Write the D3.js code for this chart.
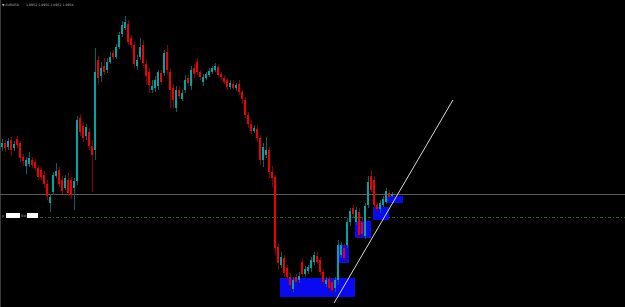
<!DOCTYPE html>
<html>
<head>
<meta charset="utf-8">
<script src="https://cdn.jsdelivr.net/npm/d3@7"></script>
<style>
  html, body { margin: 0; padding: 0; background: #000; overflow: hidden; }
  svg { display: block; }
</style>
</head>
<body>
<div id="myDiv"></div>
<script>
//Candle prices, one entry per bar
var opens = [1.1001,1.1005,1.1001,1.1008,1.1000,1.1009,1.1005,1.0991,1.0982,1.0984,
  1.0988,1.0986,1.0980,1.0978,1.0973,1.0964,1.0945,1.0956,1.0972,1.0978,
  1.0968,1.0960,1.0968,1.0968,1.0960,1.0967,1.1030,1.1022,1.1012,1.1016,
  1.1002,1.0998,1.1088,1.1072,1.1082,1.1078,1.1086,1.1095,1.1091,1.1101,
  1.1114,1.1120,1.1124,1.1110,1.1103,1.1082,1.1091,1.1103,1.1084,1.1076,
  1.1058,1.1060,1.1062,1.1075,1.1075,1.1096,1.1076,1.1060,1.1040,1.1058,
  1.1049,1.1058,1.1070,1.1062,1.1080,1.1086,1.1076,1.1066,1.1070,1.1073,
  1.1076,1.1078,1.1081,1.1074,1.1070,1.1068,1.1061,1.1064,1.1060,1.1064,
  1.1056,1.1048,1.1033,1.1024,1.1017,1.1019,1.1010,1.0988,1.0993,1.0998,
  1.0976,1.0971,1.0901,1.0883,1.0890,1.0880,1.0871,1.0859,1.0871,1.0868,
  1.0886,1.0874,1.0877,1.0880,1.0886,1.0892,1.0888,1.0876,1.0864,1.0869,
  1.0866,1.0860,1.0868,1.0893,1.0900,1.0903,1.0926,1.0940,1.0926,1.0936,
  1.0926,1.0912,1.0943,1.0972,1.0968,1.0943,1.0939,1.0943,1.0946,1.0955,
  1.0952];
var highs = [1.1009,1.1008,1.1010,1.1011,1.1007,1.1012,1.1007,1.0994,1.0991,1.0996,
  1.0991,1.0989,1.0983,1.0981,1.0977,1.0968,1.0954,1.0976,1.0985,1.0981,
  1.0972,1.0973,1.0975,1.0971,1.0970,1.1032,1.1034,1.1026,1.1024,1.1020,
  1.1008,1.1100,1.1092,1.1086,1.1090,1.1090,1.1096,1.1098,1.1104,1.1116,
  1.1127,1.1132,1.1128,1.1113,1.1106,1.1093,1.1110,1.1108,1.1088,1.1080,
  1.1068,1.1072,1.1078,1.1078,1.1098,1.1103,1.1080,1.1064,1.1062,1.1062,
  1.1058,1.1073,1.1073,1.1082,1.1084,1.1090,1.1078,1.1074,1.1076,1.1080,
  1.1082,1.1085,1.1083,1.1076,1.1073,1.1070,1.1068,1.1068,1.1065,1.1068,
  1.1058,1.1051,1.1036,1.1028,1.1023,1.1023,1.1013,1.1005,1.1011,1.1001,
  1.0982,1.0973,1.0905,1.0896,1.0893,1.0883,1.0875,1.0871,1.0874,1.0876,
  1.0890,1.0882,1.0883,1.0891,1.0896,1.0896,1.0891,1.0879,1.0871,1.0872,
  1.0869,1.0871,1.0908,1.0906,1.0904,1.0930,1.0940,1.0943,1.0941,1.0940,
  1.0930,1.0945,1.0972,1.0978,1.0972,1.0946,1.0948,1.0952,1.0960,1.0958,
  1.0956];
var lows = [1.0997,1.0996,1.0998,1.0992,1.0997,1.0999,1.0986,1.0982,1.0974,1.0981,
  1.0980,1.0977,1.0968,1.0968,1.0960,1.0948,1.0936,1.0953,1.0970,1.0961,
  1.0954,1.0958,1.0952,1.0949,1.0938,1.0963,1.1012,1.1006,1.1008,1.0998,
  1.0956,1.0988,1.1063,1.1066,1.1073,1.1075,1.1084,1.1088,1.1089,1.1099,
  1.1111,1.1118,1.1103,1.1100,1.1080,1.1078,1.1088,1.1082,1.1063,1.1055,
  1.1055,1.1056,1.1058,1.1063,1.1072,1.1073,1.1040,1.1040,1.1036,1.1049,
  1.1047,1.1055,1.1062,1.1058,1.1070,1.1073,1.1068,1.1062,1.1068,1.1071,
  1.1074,1.1076,1.1071,1.1068,1.1064,1.1058,1.1059,1.1058,1.1057,1.1053,
  1.1044,1.1030,1.1020,1.1014,1.1015,1.1006,1.0983,1.0981,1.0990,1.0970,
  1.0961,1.0893,1.0878,1.0880,1.0871,1.0868,1.0858,1.0856,1.0863,1.0865,
  1.0871,1.0871,1.0874,1.0876,1.0883,1.0884,1.0873,1.0863,1.0861,1.0857,
  1.0855,1.0856,1.0863,1.0890,1.0886,1.0900,1.0922,1.0931,1.0923,1.0910,
  1.0910,1.0909,1.0940,1.0956,1.0940,1.0936,1.0935,1.0941,1.0944,1.0949,
  1.0951];
var closes = [1.1005,1.1000,1.1007,1.0998,1.1004,1.1003,1.0990,1.0987,1.0988,1.0990,
  1.0983,1.0980,1.0971,1.0971,1.0964,1.0952,1.0951,1.0973,1.0977,1.0964,
  1.0957,1.0970,1.0955,1.0953,1.0967,1.1028,1.1016,1.1010,1.1021,1.1002,
  1.0993,1.1076,1.1070,1.1080,1.1076,1.1086,1.1091,1.1091,1.1101,1.1113,
  1.1123,1.1126,1.1106,1.1103,1.1084,1.1088,1.1101,1.1085,1.1072,1.1063,
  1.1062,1.1068,1.1076,1.1066,1.1095,1.1078,1.1058,1.1048,1.1058,1.1052,
  1.1055,1.1068,1.1065,1.1078,1.1074,1.1076,1.1071,1.1071,1.1074,1.1077,
  1.1080,1.1082,1.1073,1.1071,1.1066,1.1061,1.1065,1.1060,1.1063,1.1056,
  1.1049,1.1033,1.1024,1.1017,1.1020,1.1010,1.0988,1.1001,1.0998,1.0976,
  1.0970,1.0900,1.0885,1.0891,1.0875,1.0871,1.0863,1.0868,1.0866,1.0872,
  1.0874,1.0879,1.0881,1.0888,1.0893,1.0886,1.0876,1.0866,1.0868,1.0860,
  1.0858,1.0868,1.0903,1.0903,1.0890,1.0926,1.0937,1.0934,1.0938,1.0913,
  1.0914,1.0942,1.0966,1.0958,1.0943,1.0939,1.0945,1.0949,1.0957,1.0951,
  1.0954];

//Blue zones (bar index from/to, price top/bottom)
var zoneStart = [92.7, 111.7, 117.7, 123.7, 128.3];
var zoneEnd = [117.7, 115.7, 123.0, 129.0, 133.7];
var zoneTop = [1.0870, 1.0903, 1.0927, 1.0941, 1.0952];
var zoneBottom = [1.0851, 1.0885, 1.0910, 1.0928, 1.0945];

//Trend line (bar index, price)
var trendIndex = [110.7, 150.3];
var trendPrice = [1.0845, 1.1048];

//Horizontal levels
var bidLevel = 1.0954;
var dashLevel = 1.0931;
var symbolName = "EURUSD";

var width = 625;
var height = 307;
var upColor = "#00a4a4";
var downColor = "#f00000";

//Build candle objects
var candles = closes.map(function(c, i){
    return {i: i, o: opens[i], h: highs[i], l: lows[i], c: c};
});

//Scales
var xScale = d3.scaleLinear()
    .domain([0, 1])
    .range([2, 5]);

var yScale = d3.scaleLinear()
    .domain([1.0841, 1.1148])
    .range([height, 0]);

var svg = d3.select("#myDiv").append("svg")
    .attr("width", width)
    .attr("height", height)
    .style("background", "#000");

//Left border
svg.append("line")
    .attr("x1", 0.5).attr("x2", 0.5)
    .attr("y1", 0).attr("y2", height)
    .attr("stroke", "#3a3a3a");

//Bid line
svg.append("line")
    .attr("x1", 0).attr("x2", width)
    .attr("y1", Math.round(yScale(bidLevel)) + 0.5)
    .attr("y2", Math.round(yScale(bidLevel)) + 0.5)
    .attr("stroke", "#5a5a5a");

//Dash-dot level
svg.append("line")
    .attr("x1", 40).attr("x2", width)
    .attr("y1", Math.round(yScale(dashLevel)) + 0.5)
    .attr("y2", Math.round(yScale(dashLevel)) + 0.5)
    .attr("stroke", "#2e5a2e")
    .attr("stroke-dasharray", "3,2,1,2");

//Blue zones
svg.selectAll("rect.zone")
    .data(zoneStart)
    .enter()
    .append("rect")
        .attr("class", "zone")
        .attr("x", function(d){ return Math.round(xScale(d)); })
        .attr("y", function(d, i){ return Math.round(yScale(zoneTop[i])); })
        .attr("width", function(d, i){ return Math.round(xScale(zoneEnd[i]) - xScale(d)); })
        .attr("height", function(d, i){ return Math.round(yScale(zoneBottom[i]) - yScale(zoneTop[i])); })
        .attr("fill", "#0a0af0");

//Wicks
svg.selectAll("rect.wick")
    .data(candles)
    .enter()
    .append("rect")
        .attr("class", "wick")
        .attr("x", function(d){ return xScale(d.i); })
        .attr("y", function(d){ return Math.round(yScale(d.h)); })
        .attr("width", 1)
        .attr("height", function(d){ return Math.max(1, Math.round(yScale(d.l) - yScale(d.h))); })
        .attr("fill", function(d){ return d.c >= d.o ? "#036464" : "#8a0000"; });

//Bodies
svg.selectAll("rect.body")
    .data(candles)
    .enter()
    .append("rect")
        .attr("class", "body")
        .attr("x", function(d){ return xScale(d.i) - 1; })
        .attr("y", function(d){ return Math.round(yScale(Math.max(d.o, d.c))); })
        .attr("width", 2)
        .attr("height", function(d){ return Math.max(1, Math.round(Math.abs(yScale(d.o) - yScale(d.c)))); })
        .attr("fill", function(d){ return d.c >= d.o ? upColor : downColor; });

//Trend line
svg.append("line")
    .attr("x1", xScale(trendIndex[0])).attr("y1", yScale(trendPrice[0]))
    .attr("x2", xScale(trendIndex[1])).attr("y2", yScale(trendPrice[1]))
    .attr("stroke", "#d8d8d8")
    .attr("stroke-width", 1);

//Header text
var last = candles[candles.length - 1];
svg.append("text")
    .attr("x", 2).attr("y", 6)
    .attr("font-family", "DejaVu Sans")
    .attr("font-size", 3.2)
    .attr("fill", "#bbb")
    .text("\u25BC " + symbolName);
svg.append("text")
    .attr("x", 26).attr("y", 6)
    .attr("font-family", "DejaVu Sans")
    .attr("font-size", 3.2)
    .attr("fill", "#bbb")
    .text([last.o, last.h, last.l, last.c].map(function(v){ return v.toFixed(4); }).join(" "));

//Small input boxes at the left
svg.append("text")
    .attr("x", 2).attr("y", 217)
    .attr("font-family", "DejaVu Sans")
    .attr("font-size", 3.5)
    .attr("fill", "#999")
    .text("p");
svg.append("rect")
    .attr("x", 6).attr("y", 213)
    .attr("width", 14).attr("height", 5)
    .attr("fill", "#fff");
svg.append("text")
    .attr("x", 21).attr("y", 217)
    .attr("font-family", "DejaVu Sans")
    .attr("font-size", 3.5)
    .attr("fill", "#999")
    .text("Bid");
svg.append("rect")
    .attr("x", 27).attr("y", 213)
    .attr("width", 11).attr("height", 5)
    .attr("fill", "#fff");
</script>
</body>
</html>
